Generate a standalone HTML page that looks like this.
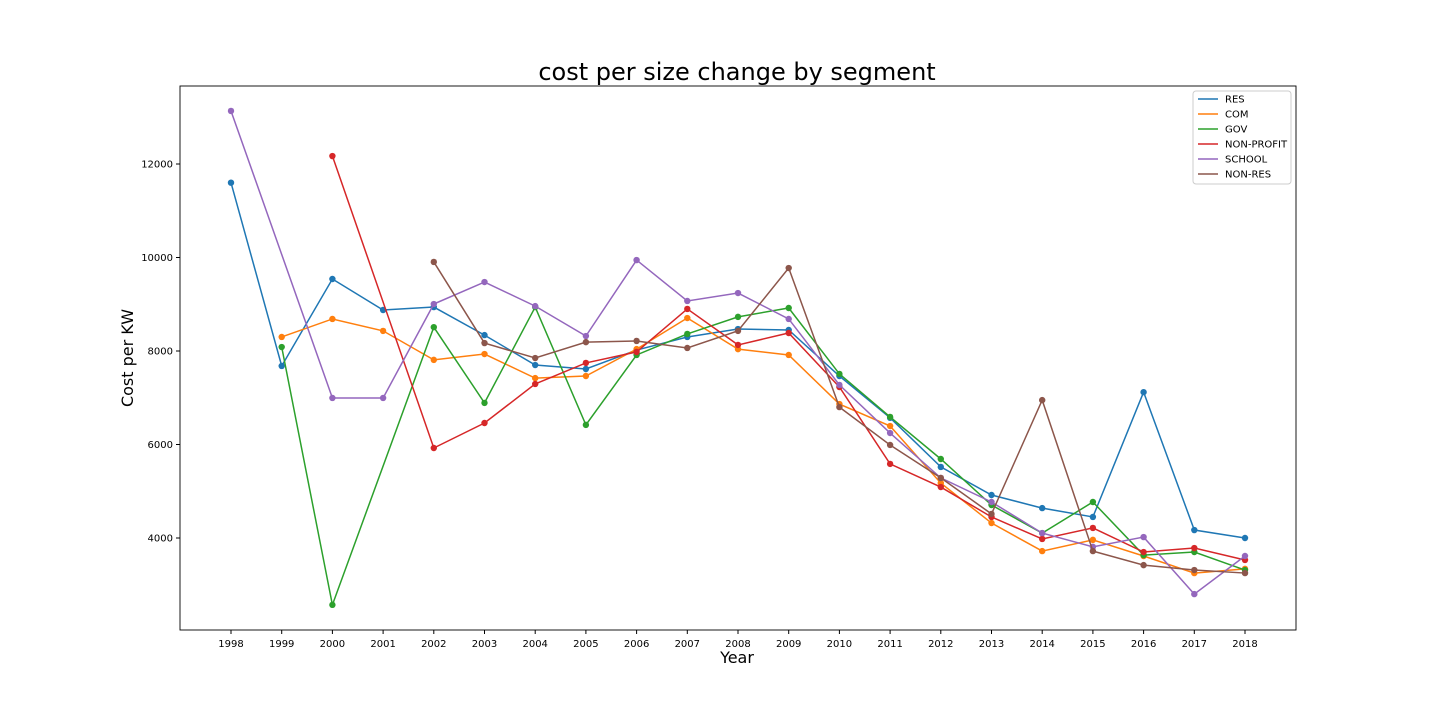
<!DOCTYPE html>
<html><head><meta charset="utf-8"><style>
body{margin:0;background:#fff;font-family:"DejaVu Sans","Liberation Sans",sans-serif}
svg{display:block;font-family:"DejaVu Sans","Liberation Sans",sans-serif}
</style></head><body>
<svg id="chart" width="1440" height="720"></svg>
<script>
const years=[1998,1999,2000,2001,2002,2003,2004,2005,2006,2007,2008,2009,2010,2011,2012,2013,2014,2015,2016,2017,2018];
const yTicks=[4000,6000,8000,10000,12000];
const seriesNames=["RES","COM","GOV","NON-PROFIT","SCHOOL","NON-RES"];
const colors=["#1f77b4","#ff7f0e","#2ca02c","#d62728","#9467bd","#8c564b"];
const resVals=[11600,7680,9540,8877,8940,8340,7700,7615,8020,8300,8470,8450,7465,6570,5520,4920,4640,4450,7120,4170,4000];
const comVals=[null,8300,8685,8430,7810,7935,7420,7465,8040,8705,8040,7915,6865,6395,5175,4320,3720,3960,3615,3250,3340];
const govVals=[null,8085,2570,null,8510,6890,8940,6420,7915,8365,8730,8920,7510,6590,5690,4705,4105,4770,3635,3700,3315];
const npVals=[null,null,12170,null,5925,6460,7295,7745,7980,8900,8130,8385,7230,5585,5090,4450,3980,4215,3700,3785,3530];
const schoolVals=[13135,null,6995,6995,9005,9475,8960,8320,9945,9070,9240,8685,7275,6245,5285,4770,4105,3810,4020,2800,3615];
const nonresVals=[null,null,null,null,9905,8170,7850,8190,8215,8065,8430,9775,6800,5990,5285,4515,6950,3720,3420,3315,3250];
const allSeries=[resVals,comVals,govVals,npVals,schoolVals,nonresVals];

const NS="http://www.w3.org/2000/svg";
const svg=document.getElementById('chart');
function mk(t,a,p){const e=document.createElementNS(NS,t);for(const k in a)e.setAttribute(k,a[k]);(p||svg).appendChild(e);return e;}
const L=180,R=1296,T=86,B=630;
const xS=yr=>231+(yr-1998)*(1245-231)/20;
const yS=v=>538-(v-4000)*(538-164)/8000;

const title=mk('text',{x:737,y:80,'font-size':24,'text-anchor':'middle',fill:'#000'});title.textContent='cost per size change by segment';


const frame=mk('rect',{x:L,y:T,width:R-L,height:B-T,fill:'none',stroke:'#000','stroke-width':0.9});


years.forEach(yr=>{
 const x=xS(yr);
 const tk=mk('line',{x1:x,x2:x,y1:B,y2:B+4,stroke:'#000'});
 
 const t=mk('text',{x:x,y:B+17,'font-size':10,'text-anchor':'middle'});t.textContent=yr;
 
});
yTicks.forEach(v=>{
 const y=yS(v);
 const tk=mk('line',{x1:L-4,x2:L,y1:y,y2:y,stroke:'#000'});
 
 const t=mk('text',{x:L-7,y:y+3.5,'font-size':10,'text-anchor':'end'});t.textContent=v;
 
});
const xl=mk('text',{x:737,y:663,'font-size':16,'text-anchor':'middle'});xl.textContent='Year';

const yl=mk('text',{x:0,y:0,'font-size':16,'text-anchor':'middle',transform:'translate(133,358) rotate(-90)'});yl.textContent='Cost per KW';


allSeries.forEach((vals,i)=>{
 const g=mk('g',{});
 
 
 const pts=[];
 vals.forEach((v,j)=>{if(v!==null)pts.push([xS(years[j]),yS(v)]);});
 const pl=mk('polyline',{points:pts.map(p=>p.join(',')).join(' '),fill:'none',stroke:colors[i],'stroke-width':1.5},g);
 
 pts.forEach(p=>{
  const c=mk('circle',{cx:p[0],cy:p[1],r:3.2,fill:colors[i]},g);
  
 });
});

const lg=mk('g',{});

mk('rect',{x:1193,y:91,width:98,height:93,rx:3,fill:'#fff','fill-opacity':0.8,stroke:'#ccc'},lg);
seriesNames.forEach((n,i)=>{
 const y=99+i*15;
 const e=mk('g',{},lg);
 
 mk('line',{x1:1198,x2:1218,y1:y,y2:y,stroke:colors[i],'stroke-width':1.5},e);
 const t=mk('text',{x:1225,y:y+3.5,'font-size':10},e);t.textContent=n;
});
</script>
</body></html>
